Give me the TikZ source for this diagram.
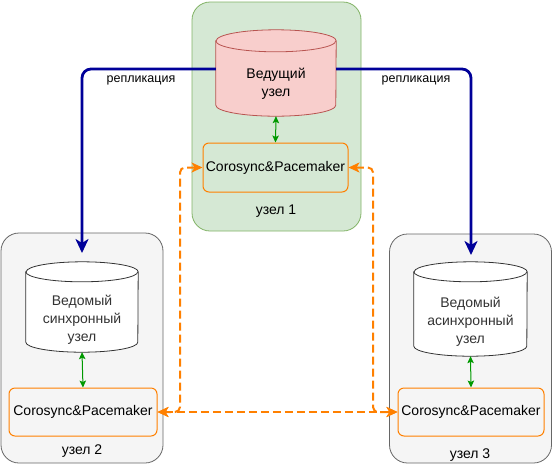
\documentclass[tikz,border=0pt]{standalone}
\usepackage{fontspec}
\setmainfont{Liberation Sans}
\usetikzlibrary{arrows.meta}
\definecolor{nodegreen}{HTML}{D5E8D4}
\definecolor{nodegreenline}{HTML}{82B366}
\definecolor{nodegray}{HTML}{F5F5F5}
\definecolor{nodegrayline}{HTML}{666666}
\definecolor{dbred}{HTML}{F8CECC}
\definecolor{dbredline}{HTML}{B85450}
\definecolor{dbline}{HTML}{333333}
\definecolor{haorange}{HTML}{FF8000}
\definecolor{replblue}{HTML}{000099}
\definecolor{hbgreen}{HTML}{009900}

\begin{document}
\begin{tikzpicture}[x=1pt,y=-1pt,
    every node/.style={font=\fontsize{14}{18}\selectfont,align=center,inner sep=0pt},
    grp/.style={rounded corners=18pt,line width=0.8pt},
    dbbox/.style={minimum width=#1,minimum height=92pt},
    ha/.style={draw=haorange,rounded corners=6pt,line width=1pt,minimum width=146pt,minimum height=48pt},
    repl/.style={draw=replblue,line width=2.8pt,rounded corners=9pt,-{Stealth[length=14pt,width=13pt,inset=4pt]}},
    hb/.style={draw=hbgreen,line width=1pt,{Stealth[length=7pt,width=6.5pt,inset=1.5pt]}-{Stealth[length=7pt,width=6.5pt,inset=1.5pt]}},
    link/.style={draw=haorange,line width=2pt,dash pattern=on 8pt off 4pt,rounded corners=5pt,
                 {Stealth[length=11pt,width=10pt,inset=3pt]}-{Stealth[length=11pt,width=10pt,inset=3pt]}},
    lbl/.style={font=\fontsize{12.5}{14}\selectfont}]
  \useasboundingbox (0,0) rectangle (554,467);

  \node[grp,draw=nodegreenline,fill=nodegreen,minimum width=169pt,minimum height=229pt] (n1) at (276.5,116.5) {};
  \node[grp,draw=nodegrayline,fill=nodegray,minimum width=162pt,minimum height=230pt] (n2) at (82,348) {};
  \node[grp,draw=nodegrayline,fill=nodegray,minimum width=162pt,minimum height=229pt] (n3) at (470.5,348.5) {};

  \node[dbbox=120pt,minimum height=86pt] (db1) at (276,73) {};
  \filldraw[fill=dbred,draw=dbredline,line width=0.8pt]
    ([yshift=-11pt]db1.north west) -- ([yshift=11pt]db1.south west)
    arc[start angle=180,end angle=360,x radius=60pt,y radius=11pt]
    -- ([yshift=-11pt]db1.north east)
    arc[start angle=0,end angle=180,x radius=60pt,y radius=11pt] -- cycle;
  \draw[draw=dbredline,line width=0.8pt] ([yshift=-11pt]db1.north west)
    arc[start angle=180,end angle=360,x radius=60pt,y radius=11pt];
  \node (db1txt) at (276,84) {Ведущий\\узел};

  \node[dbbox=112pt,minimum height=90pt] (db2) at (82,307) {};
  \filldraw[fill=white,draw=dbline,line width=0.8pt]
    ([yshift=-10pt]db2.north west) -- ([yshift=10pt]db2.south west)
    arc[start angle=180,end angle=360,x radius=56pt,y radius=10pt]
    -- ([yshift=-10pt]db2.north east)
    arc[start angle=0,end angle=180,x radius=56pt,y radius=10pt] -- cycle;
  \draw[draw=dbline,line width=0.8pt] ([yshift=-10pt]db2.north west)
    arc[start angle=180,end angle=360,x radius=56pt,y radius=10pt];
  \node[text=dbline] (db2txt) at (82,320) {Ведомый\\синхронный\\узел};

  \node[dbbox=113pt,minimum height=94pt] (db3) at (470.5,309) {};
  \filldraw[fill=white,draw=dbline,line width=0.8pt]
    ([yshift=-10pt]db3.north west) -- ([yshift=10pt]db3.south west)
    arc[start angle=180,end angle=360,x radius=56.5pt,y radius=10pt]
    -- ([yshift=-10pt]db3.north east)
    arc[start angle=0,end angle=180,x radius=56.5pt,y radius=10pt] -- cycle;
  \draw[draw=dbline,line width=0.8pt] ([yshift=-10pt]db3.north west)
    arc[start angle=180,end angle=360,x radius=56.5pt,y radius=10pt];
  \node[text=dbline] (db3txt) at (470.5,322) {Ведомый\\асинхронный\\узел};

  \node[ha,minimum width=145pt,minimum height=49pt] (ha1) at (275.5,167.5) {Corosync\&Pacemaker};
  \node[ha,minimum width=148pt] (ha2) at (83,412) {Corosync\&Pacemaker};
  \node[ha,minimum width=146pt] (ha3) at (471,412) {Corosync\&Pacemaker};

  \node (lbl1) at (276,211) {узел 1};
  \node (lbl2) at (82,451) {узел 2};
  \node (lbl3) at (470,455) {узел 3};

  \draw[hb] (db1.south) -- (ha1.north);
  \draw[hb] (db2.south) -- (ha2.north);
  \draw[hb] (db3.south) -- (ha3.north);

  \coordinate (r2) at (82,253);
  \coordinate (r3) at (471,255);
  \draw[repl] (db1.west |- 0,69) -- (82,69) -- (r2);
  \draw[repl] (db1.east |- 0,69) -- (471,69) -- (r3);
  \node[lbl] (repl2) at (141,80) {репликация};
  \node[lbl] (repl3) at (416,80) {репликация};

  \draw[link] (ha1.west) -- (180,167.5) -- (180,412) -- (ha2.east);
  \draw[link] (ha1.east) -- (373,167.5) -- (373,412) -- (ha3.west);
  \draw[link] (ha2.east) -- (ha3.west);
\end{tikzpicture}
\end{document}
